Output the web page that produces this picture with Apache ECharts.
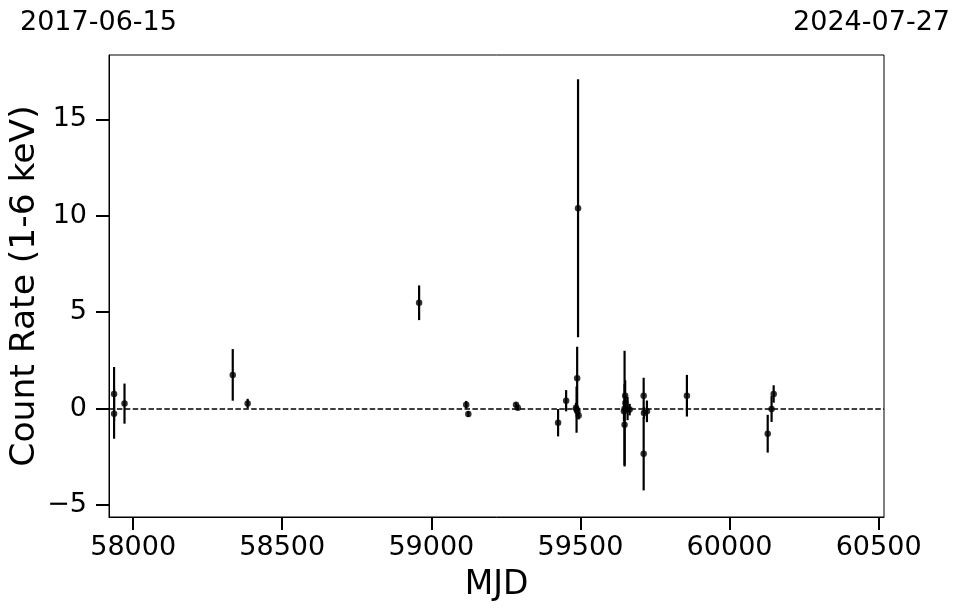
<!DOCTYPE html>
<html>
<head>
<meta charset="utf-8">
<script src="https://cdn.jsdelivr.net/npm/echarts@6/dist/echarts.min.js"></script>
<style>html,body{margin:0;padding:0;background:#fff}#c{width:962px;height:613px}</style>
</head>
<body>
<div id="c"></div>
<script>
var mjd  = [57936, 57936, 57971, 58334, 58384, 58959, 59117, 59124, 59284, 59290, 59425, 59452, 59492, 59489, 59487, 59485, 59490, 59494, 59648, 59648, 59650, 59651, 59646, 59658, 59665, 59712, 59712, 59713, 59723, 59857, 60128, 60141, 60148];
var rate = [0.76, -0.26, 0.26, 1.75, 0.26, 5.49, 0.20, -0.28, 0.20, 0.05, -0.73, 0.41, 10.39, 1.57, -0.05, 0.05, -0.15, -0.36, 0.00, -0.83, 0.67, 0.30, -0.14, 0.00, -0.05, 0.67, -2.34, -0.22, -0.14, 0.67, -1.30, -0.02, 0.76];
var err  = [1.40, 1.30, 1.04, 1.34, 0.25, 0.90, 0.20, 0.15, 0.12, 0.12, 0.71, 0.55, 6.69, 1.64, 1.20, 0.25, 0.20, 0.20, 3.00, 2.10, 0.80, 0.40, 0.50, 0.60, 0.30, 0.93, 1.90, 0.30, 0.56, 1.08, 0.98, 0.67, 0.45];
var xTicks = [58000, 58500, 59000, 59500, 60000, 60500];
var yTicks = [-5, 0, 5, 10, 15];
var startDate = '2017-06-15';
var endDate = '2024-07-27';

var pts = mjd.map(function (m, i) { return [m, rate[i]]; });
var bars = mjd.map(function (m, i) { return [m, rate[i] - err[i], rate[i] + err[i]]; });

var chart = echarts.init(document.getElementById('c'));
var FONT = 'DejaVu Sans';
chart.setOption({
  animation: false,
  backgroundColor: '#fff',
  textStyle: { fontFamily: FONT },
  grid: { left: 109, right: 78, top: 55, bottom: 96, containLabel: false, outerBoundsMode: 'none',
          show: true, borderColor: '#000', borderWidth: 1, backgroundColor: 'transparent' },
  graphic: [
    { type: 'text', left: 20, top: 9, style: { text: startDate, font: '27px "DejaVu Sans"', fill: '#000' } },
    { type: 'text', right: 12, top: 9, style: { text: endDate, font: '27px "DejaVu Sans"', fill: '#000' } }
  ],
  xAxis: {
    type: 'value', min: 57919, max: 60518,
    name: 'MJD', nameLocation: 'middle', nameGap: 52, nameMoveOverlap: false,
    nameTextStyle: { fontSize: 33, color: '#000', fontFamily: FONT },
    splitLine: { show: false },
    axisLine: { show: true, onZero: false, lineStyle: { color: '#000', width: 1 } },
    axisTick: { show: true, length: 13, lineStyle: { color: '#000', width: 2 }, customValues: xTicks },
    axisLabel: { fontSize: 27, color: '#000', margin: 17, customValues: xTicks, fontFamily: FONT,
      formatter: function (v) { return String(v); } }
  },
  yAxis: {
    type: 'value', min: -5.62, max: 18.34,
    name: 'Count Rate (1-6 keV)', nameLocation: 'middle', nameGap: 66, nameMoveOverlap: false,
    nameTextStyle: { fontSize: 34.5, color: '#000', fontFamily: FONT },
    splitLine: { show: false },
    axisLine: { show: true, onZero: false, lineStyle: { color: '#000', width: 1 } },
    axisTick: { show: true, length: 13, lineStyle: { color: '#000', width: 2 }, customValues: yTicks },
    axisLabel: { fontSize: 27, color: '#000', margin: 22, customValues: yTicks, fontFamily: FONT,
      formatter: function (v) { return v < 0 ? '\u2212' + Math.abs(v) : String(v); } }
  },
  series: [
    {
      type: 'custom',
      data: bars,
      encode: { x: 0, y: [1, 2] },
      renderItem: function (params, api) {
        var lo = api.coord([api.value(0), api.value(1)]);
        var hi = api.coord([api.value(0), api.value(2)]);
        return { type: 'line', shape: { x1: lo[0], y1: lo[1], x2: hi[0], y2: hi[1] }, style: { stroke: '#000', lineWidth: 2.2 } };
      },
      z: 2
    },
    {
      type: 'scatter',
      data: pts,
      symbol: 'circle',
      symbolSize: 6.5,
      itemStyle: { color: '#000' },
      z: 3,
      markLine: {
        silent: true, symbol: 'none', label: { show: false },
        lineStyle: { color: '#000', type: [5.5, 2.4], width: 1.5 },
        data: [{ yAxis: 0 }]
      }
    }
  ]
});
</script>
</body>
</html>
